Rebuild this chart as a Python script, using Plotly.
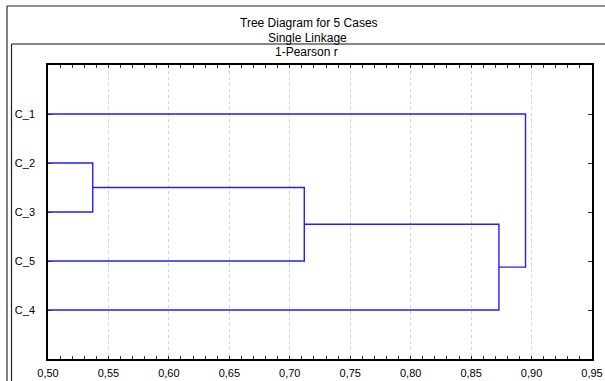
import plotly.graph_objects as go

# ---- data ----
leaf_labels = ["C_1", "C_2", "C_3", "C_5", "C_4"]          # display order, top to bottom
# merges: (child_a, child_b, linkage distance); nodes 0..4 are leaves, new nodes numbered from 5
merge_a = [1, 5, 6, 0]
merge_b = [2, 3, 4, 7]
merge_dist = [0.537, 0.712, 0.873, 0.895]
x_tick_vals = [0.50, 0.55, 0.60, 0.65, 0.70, 0.75, 0.80, 0.85, 0.90, 0.95]
x_tick_text = ["0,50", "0,55", "0,60", "0,65", "0,70", "0,75", "0,80", "0,85", "0,90", "0,95"]
title_lines = ["Tree Diagram for 5 Cases", "Single Linkage", "1-Pearson r"]

X_MIN, X_MAX = 0.50, 0.95
W, H = 605, 381
ML, MR, MT, MB = 48, 13, 65, 22
PW, PH = W - ML - MR, H - MT - MB

# ---- build dendrogram segments ----
node_y = {i: i + 1 for i in range(len(leaf_labels))}
node_x = {i: X_MIN for i in range(len(leaf_labels))}
xs, ys = [], []
for k, (a, b, d) in enumerate(zip(merge_a, merge_b, merge_dist)):
    n = len(leaf_labels) + k
    xs += [node_x[a], d, d, node_x[b], None]
    ys += [node_y[a], node_y[a], node_y[b], node_y[b], None]
    node_x[n] = d
    node_y[n] = (node_y[a] + node_y[b]) / 2

fig = go.Figure()
fig.add_trace(go.Scatter(x=xs, y=ys, mode="lines",
                         line=dict(color="#1f1fff", width=1.4),
                         hoverinfo="skip", showlegend=False))

font = dict(family="Liberation Sans, Arial, sans-serif", size=11, color="black")
title_font = dict(family="Liberation Sans, Arial, sans-serif", size=12, color="black")

def px_x(px):
    return (px - ML) / PW

def px_y(py):
    return (H - MB - py) / PH

# frames
shapes = [
    dict(type="line", xref="paper", yref="paper", x0=px_x(7), x1=px_x(7), y0=px_y(6), y1=px_y(400),
         line=dict(color="#555555", width=1.5)),
    dict(type="line", xref="paper", yref="paper", x0=px_x(7), x1=px_x(620), y0=px_y(6), y1=px_y(6),
         line=dict(color="#222222", width=1.2)),
    dict(type="line", xref="paper", yref="paper", x0=px_x(11.5), x1=px_x(11.5), y0=px_y(44), y1=px_y(400),
         line=dict(color="#222222", width=1.2)),
    dict(type="line", xref="paper", yref="paper", x0=px_x(11.5), x1=px_x(620), y0=px_y(44), y1=px_y(44),
         line=dict(color="#111111", width=1.2)),
]

title_y = [23, 38, 51.5]
title_x = [308.5, 307.7, 306.7]
annotations = [
    dict(text=t, xref="paper", yref="paper", x=px_x(tx), y=px_y(ty), showarrow=False,
         xanchor="center", yanchor="middle", font=title_font)
    for t, tx, ty in zip(title_lines, title_x, title_y)
]

fig.update_layout(
    template="none",
    width=W, height=H,
    margin=dict(l=ML, r=MR, t=MT, b=MB, pad=0, autoexpand=False),
    paper_bgcolor="white", plot_bgcolor="white",
    font=font,
    shapes=shapes,
    annotations=annotations,
    showlegend=False,
)
fig.update_xaxes(
    automargin=False,
    range=[X_MIN, X_MAX], tickvals=x_tick_vals, ticktext=x_tick_text,
    ticks="inside", ticklen=3, tickcolor="#333333", mirror="ticks",
    showline=True, linecolor="black", linewidth=1.5,
    showgrid=True, gridcolor="#d4d4d4", griddash="dot", gridwidth=1,
    minor=dict(dtick=0.01, tick0=0.5, ticks="inside", ticklen=3, tickcolor="#333333", showgrid=False),
    zeroline=False, tickfont=font, ticklabelstandoff=3,
)
fig.update_yaxes(
    automargin=False,
    range=[6, 0], tickvals=list(range(1, len(leaf_labels) + 1)), ticktext=leaf_labels,
    ticks="inside", ticklen=4, tickcolor="#333333", mirror="ticks",
    showline=True, linecolor="black", linewidth=1.5,
    showgrid=False, zeroline=False, tickfont=font, ticklabelstandoff=9,
)

fig.write_html("out.html")
